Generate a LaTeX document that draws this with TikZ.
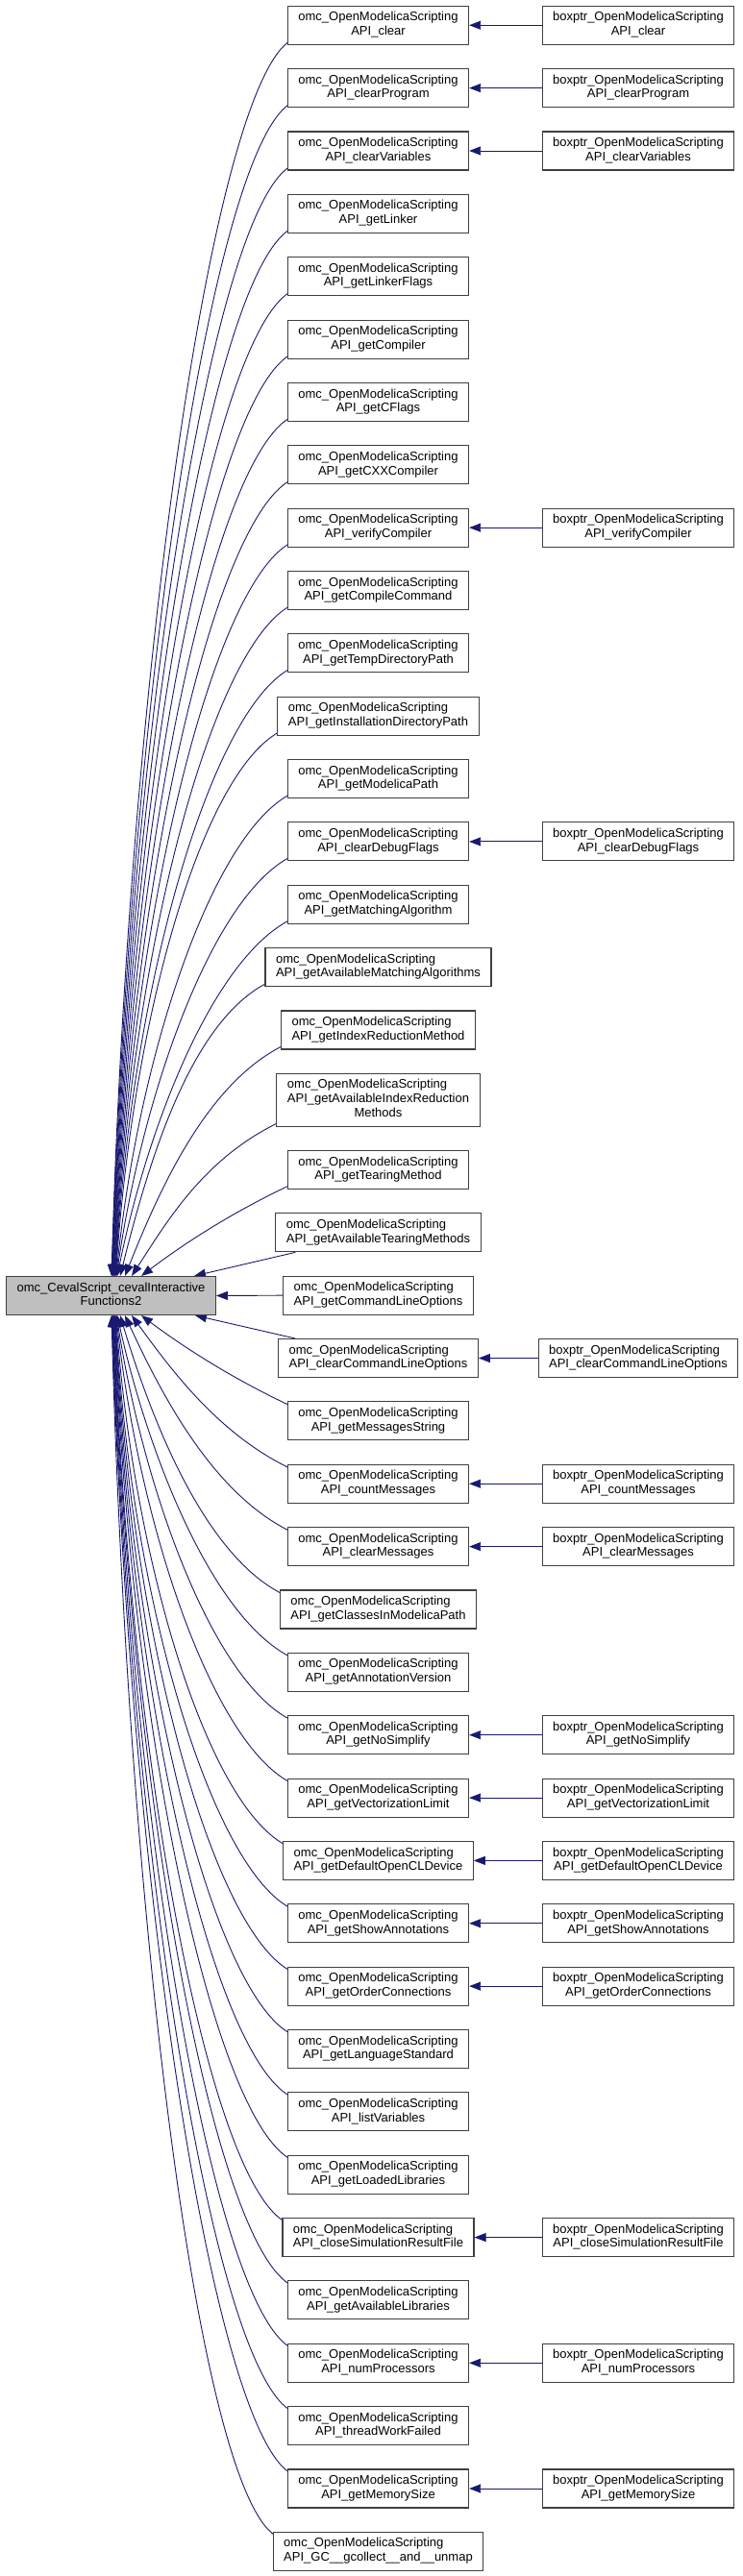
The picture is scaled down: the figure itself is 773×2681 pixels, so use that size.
\documentclass[tikz,border=0pt]{standalone}
\usepackage{fontspec}
\setmainfont{Liberation Sans}
\usetikzlibrary{arrows.meta,calc}
\definecolor{edgec}{HTML}{191970}
\definecolor{framec}{HTML}{404040}
\definecolor{mainfill}{HTML}{BFBFBF}
\pgfdeclarelayer{bg}
\pgfsetlayers{bg,main}
\newcommand{\lbl}[2]{\begin{tabular}{@{}l@{}}#1\\\multicolumn{1}{@{}c@{}}{#2}\end{tabular}}
\newcommand{\lblthree}[3]{\begin{tabular}{@{}l@{}}#1\\\multicolumn{1}{@{}c@{}}{#2}\\\multicolumn{1}{@{}c@{}}{#3}\end{tabular}}
\begin{document}
\begin{tikzpicture}[x=1pt,y=1pt,
  fn/.style={draw=framec, line width=1.1pt, fill=white, inner xsep=11pt, inner ysep=5.3pt, font=\fontsize{13}{14.7}\selectfont},
  mainfn/.style={fn, fill=mainfill},
  edge/.style={draw=edgec, line width=0.9pt, -{Triangle[length=12pt,width=9pt]}}]
\useasboundingbox (0,0) rectangle (773,-2681);

\node[mainfn] (main) at (115.5,-1348.5) {\lbl{omc\_CevalScript\_cevalInteractive}{Functions2}};

\foreach \k/\nm/\hb in {1/clear/1, 2/clearProgram/1, 3/clearVariables/1, 4/getLinker/0, 5/getLinkerFlags/0, 6/getCompiler/0, 7/getCFlags/0, 8/getCXXCompiler/0, 9/verifyCompiler/1, 10/getCompileCommand/0, 11/getTempDirectoryPath/0, 12/getInstallationDirectoryPath/0, 13/getModelicaPath/0, 14/clearDebugFlags/1, 15/getMatchingAlgorithm/0, 16/getAvailableMatchingAlgorithms/0, 17/getIndexReductionMethod/0, 19/getTearingMethod/0, 20/getAvailableTearingMethods/0, 21/getCommandLineOptions/0, 22/clearCommandLineOptions/1, 23/getMessagesString/0, 24/countMessages/1, 25/clearMessages/1, 26/getClassesInModelicaPath/0, 27/getAnnotationVersion/0, 28/getNoSimplify/1, 29/getVectorizationLimit/1, 30/getDefaultOpenCLDevice/1, 31/getShowAnnotations/1, 32/getOrderConnections/1, 33/getLanguageStandard/0, 34/listVariables/0, 35/getLoadedLibraries/0, 36/closeSimulationResultFile/1, 37/getAvailableLibraries/0, 38/numProcessors/1, 39/threadWorkFailed/0, 40/getMemorySize/1, 41/GC\_\_gcollect\_\_and\_\_unmap/0}{
  \pgfmathsetmacro\ytop{\k<19 ? 5.7+(\k-1)*65.36 : 20.4+(\k-1)*65.36}
  \node[fn,anchor=north] (m\k) at (393.5,-\ytop) {\lbl{omc\_OpenModelicaScripting}{API\_\nm}};
  \ifnum\hb=1
    \node[fn,anchor=north] (b\k) at (664,-\ytop) {\lbl{boxptr\_OpenModelicaScripting}{API\_\nm}};
    \begin{pgfonlayer}{bg}\draw[edge] (b\k.west) -- (m\k.east);\end{pgfonlayer}
  \fi
}
\node[fn,anchor=north] (m18) at (393.5,-1116.8) {\lblthree{omc\_OpenModelicaScripting}{API\_getAvailableIndexReduction}{Methods}};

% edges from boxes above the main node
\foreach \k/\tx in {1/116, 2/116.4, 3/116.8, 4/117.2, 5/117.6, 6/118, 7/118.4, 8/118.8, 9/119.2, 10/119.6, 11/120, 12/120.4, 13/120.8, 14/121.2, 15/122, 16/125, 17/130, 18/137, 19/147}{
  \pgfmathsetmacro\ytop{\k<19 ? 5.7+(\k-1)*65.36 : 20.4+(\k-1)*65.36}
  \pgfmathsetmacro\dy{1329-(\ytop+34)}
  \pgfmathsetmacro\fx{\dy<600 ? 0.3-0.2*\dy/600 : 0.1}
  \pgfmathsetmacro\fy{\dy<600 ? 0.3+0.2*\dy/600 : 0.5}
  \pgfmathsetmacro\L{min(90,0.35*veclen(180,\dy))}
  \coordinate (tx) at (\tx,0);
  \coordinate (p0) at (tx |- main.north);
  \coordinate (p3) at ($(m\k.south west)+(6,6)$);
  \coordinate (cx) at ($(p0)!\fx!(p3)$);
  \coordinate (cy) at ($(p0)!\fy!(p3)$);
  \coordinate (c1) at (cx |- cy);
  \coordinate (c2) at ($(p3)+(205:\L)$);
  \begin{pgfonlayer}{bg}\draw[edge] (p3) .. controls (c2) and (c1) .. (p0);\end{pgfonlayer}
}
% edges from boxes below the main node
\foreach \k/\tx in {23/147, 24/137, 25/130, 26/125, 27/122, 28/121.2, 29/120.8, 30/120.4, 31/120, 32/119.6, 33/119.2, 34/118.8, 35/118.4, 36/118, 37/117.6, 38/117.2, 39/116.8, 40/116.4, 41/116}{
  \pgfmathsetmacro\ytop{20.4+(\k-1)*65.36}
  \pgfmathsetmacro\dy{(\ytop+6)-1368}
  \pgfmathsetmacro\fx{\dy<600 ? 0.3-0.2*\dy/600 : 0.1}
  \pgfmathsetmacro\fy{\dy<600 ? 0.3+0.2*\dy/600 : 0.5}
  \pgfmathsetmacro\L{min(90,0.35*veclen(180,\dy))}
  \coordinate (tx) at (\tx,0);
  \coordinate (p0) at (tx |- main.south);
  \coordinate (p3) at ($(m\k.north west)+(6,-6)$);
  \coordinate (cx) at ($(p0)!\fx!(p3)$);
  \coordinate (cy) at ($(p0)!\fy!(p3)$);
  \coordinate (c1) at (cx |- cy);
  \coordinate (c2) at ($(p3)+(155:\L)$);
  \begin{pgfonlayer}{bg}\draw[edge] (p3) .. controls (c2) and (c1) .. (p0);\end{pgfonlayer}
}
\coordinate (t20) at (202,0);
\coordinate (t22) at (203,0);
\begin{pgfonlayer}{bg}
\draw[edge] ($(m20.south west)+(21,0)$) -- (t20 |- main.north);
\draw[edge] (m21.west) -- (main.east);
\draw[edge] ($(m22.north west)+(18,0)$) -- (t22 |- main.south);
\end{pgfonlayer}
\end{tikzpicture}
\end{document}
